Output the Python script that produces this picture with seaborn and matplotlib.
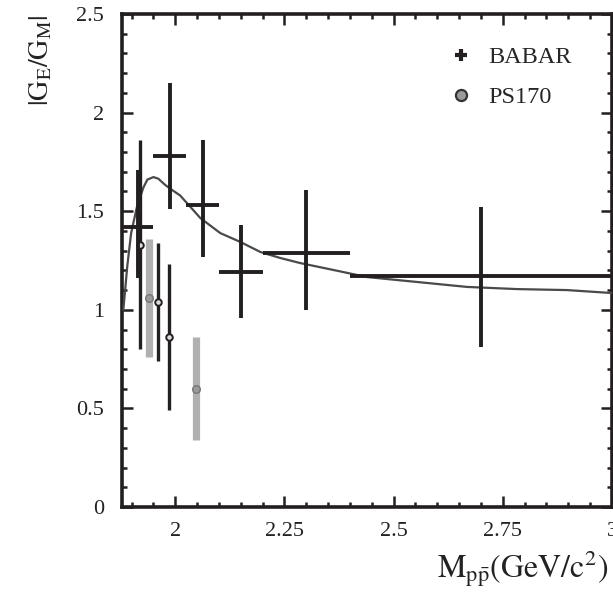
import matplotlib
matplotlib.use("Agg")
import matplotlib.pyplot as plt
from matplotlib.lines import Line2D
from matplotlib.ticker import MultipleLocator, FixedLocator
import numpy as np
import pandas as pd
import seaborn as sns

# BABAR |G_E/G_M| in bins of p-pbar invariant mass
babar_lo = [1.877, 1.950, 2.025, 2.100, 2.200, 2.400]
babar_hi = [1.950, 2.025, 2.100, 2.200, 2.400, 3.000]
babar_ratio = [1.42, 1.78, 1.53, 1.19, 1.29, 1.17]
babar_err_lo = [0.26, 0.27, 0.26, 0.23, 0.29, 0.36]
babar_err_hi = [0.29, 0.37, 0.33, 0.24, 0.32, 0.35]

# PS170 points (dark set)
ps170_mass = [1.920, 1.961, 1.985]
ps170_ratio = [1.33, 1.04, 0.86]
ps170_err = [0.53, 0.30, 0.37]

# PS170 points (grey set)
ps170_grey_mass = [1.939, 2.047]
ps170_grey_ratio = [1.06, 0.60]
ps170_grey_err = [0.30, 0.26]

# model curve
curve_mass = [1.881, 1.886, 1.890, 1.899, 1.913, 1.927, 1.936, 1.950, 1.961,
              1.977, 1.993, 2.011, 2.041, 2.057, 2.103, 2.149, 2.195, 2.240,
              2.286, 2.362, 2.439, 2.554, 2.668, 2.783, 2.897, 3.000]
curve_ratio = [1.00, 1.12, 1.22, 1.39, 1.53, 1.62, 1.66, 1.673, 1.665,
               1.633, 1.607, 1.58, 1.506, 1.466, 1.389, 1.344, 1.293, 1.263,
               1.237, 1.202, 1.166, 1.141, 1.116, 1.105, 1.100, 1.085]

x_ticks = [2.0, 2.25, 2.5, 2.75, 3.0]
x_tick_labels = ["2", "2.25", "2.5", "2.75", "3"]
y_ticks = [0, 0.5, 1.0, 1.5, 2.0, 2.5]
y_tick_labels = ["0", "0.5", "1", "1.5", "2", "2.5"]

sns.set_theme(style="ticks")
plt.rcParams["font.family"] = ["Liberation Serif", "DejaVu Serif"]
plt.rcParams["mathtext.fontset"] = "stix"

W, H = 613, 598
fig = plt.figure(figsize=(W / 100, H / 100), dpi=100)
fig.patch.set_facecolor("white")
ax = fig.add_axes([122 / W, 1 - 507 / H, (612 - 122) / W, (507 - 14) / H])

black = "#231f20"
grey = "#b0b0b0"

babar = pd.DataFrame({
    "lo": babar_lo, "hi": babar_hi, "ratio": babar_ratio,
    "elo": babar_err_lo, "ehi": babar_err_hi,
})
babar["mass"] = (babar["lo"] + babar["hi"]) / 2
babar["half"] = (babar["hi"] - babar["lo"]) / 2

curve = pd.DataFrame({"mass": curve_mass, "ratio": curve_ratio})

# grey PS170 set, drawn underneath
ax.errorbar(ps170_grey_mass, ps170_grey_ratio, yerr=ps170_grey_err,
            fmt="none", ecolor=grey, elinewidth=5.2, capsize=0, zorder=2)
sns.scatterplot(x=ps170_grey_mass, y=ps170_grey_ratio, ax=ax, marker="o",
                s=30, color="#9a9a9a", edgecolor="#777777", linewidth=1.0,
                zorder=3, legend=False)

# model curve
sns.lineplot(data=curve, x="mass", y="ratio", ax=ax, color="#4a4a4a",
             linewidth=1.6, sort=False, zorder=4, legend=False)

# dark PS170 set
ax.errorbar(ps170_mass, ps170_ratio, yerr=ps170_err, fmt="none",
            ecolor=black, elinewidth=2.4, capsize=0, zorder=5)
sns.scatterplot(x=ps170_mass, y=ps170_ratio, ax=ax, marker="o", s=22,
                color="#dddddd", edgecolor=black, linewidth=1.4, zorder=5.5,
                legend=False)

# BABAR bins
ax.errorbar(babar["mass"], babar["ratio"],
            xerr=babar["half"], yerr=[babar["elo"], babar["ehi"]],
            fmt="none", ecolor=black, elinewidth=2.8, capsize=0, zorder=7)

ax.set_xlim(1.878, 3.0)
ax.set_ylim(0, 2.5)
ax.xaxis.set_major_locator(FixedLocator(x_ticks))
ax.set_xticklabels(x_tick_labels)
ax.yaxis.set_major_locator(FixedLocator(y_ticks))
ax.set_yticklabels(y_tick_labels)
ax.xaxis.set_minor_locator(MultipleLocator(0.05))
ax.yaxis.set_minor_locator(MultipleLocator(0.1))
ax.tick_params(which="both", direction="in", top=True, right=True,
               color=black, width=1.8, labelsize=16, labelcolor="#222222")
ax.tick_params(which="major", length=8)
ax.tick_params(which="minor", length=3.6)
ax.tick_params(axis="x", pad=11)
ax.tick_params(axis="y", pad=13)
for s in ax.spines.values():
    s.set_linewidth(2.6)
    s.set_color(black)
ax.set_xlabel("")
ax.set_ylabel("")

handles = [
    Line2D([], [], linestyle="none", marker="+", markersize=9,
           markeredgewidth=3, color=black),
    Line2D([], [], linestyle="none", marker="o", markersize=8,
           markerfacecolor="#9a9a9a", markeredgecolor="#333333",
           markeredgewidth=1.6),
]
ax.legend(handles, ["BABAR", "PS170"], loc="upper left",
          bbox_to_anchor=(0.668, 0.935), frameon=False, fontsize=17.5,
          handlelength=1.0, handletextpad=0.6, labelspacing=0.75,
          borderpad=0, borderaxespad=0)

fig.text(41.5 / W, 1 - 15 / H, r"$|\mathrm{G}_{\mathrm{E}}/\mathrm{G}_{\mathrm{M}}|$",
         rotation=90, ha="center", va="top", fontsize=20, color="#222222")
fig.text(437 / W, 1 - 578 / H,
         r"$\mathrm{M}_{\mathrm{p\bar{p}}}\mathrm{(GeV/c^{2})}$",
         ha="left", va="baseline", fontsize=23, color="#222222")

fig.savefig("out.png", dpi=100)
